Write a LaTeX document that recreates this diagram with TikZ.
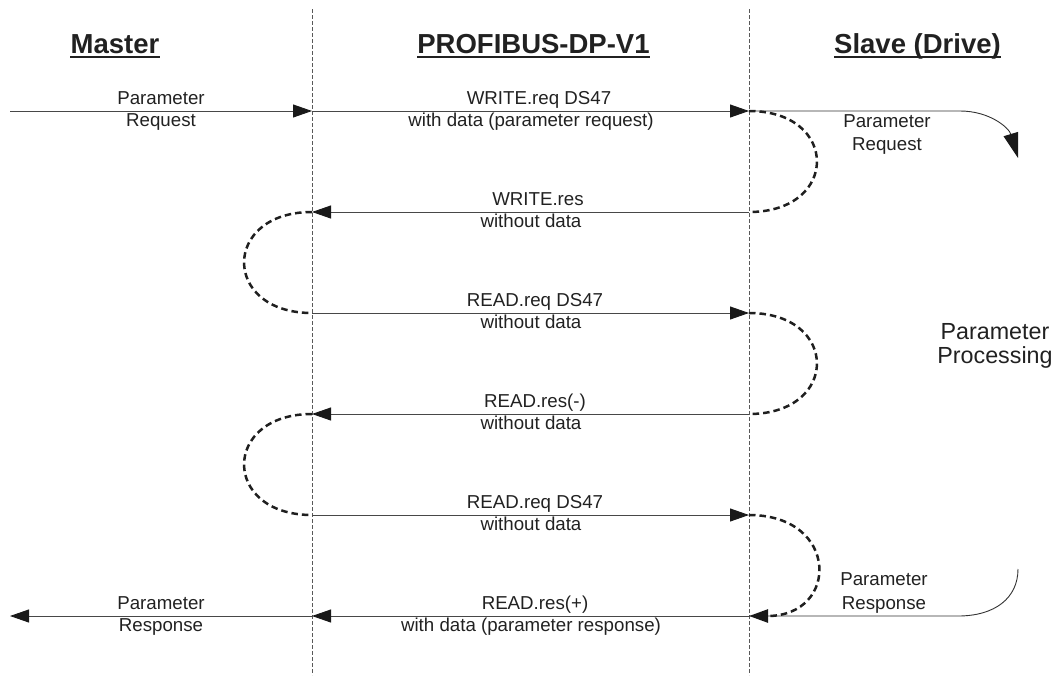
\documentclass[tikz,border=0pt]{standalone}
\usepackage{fontspec}
\setmainfont{Liberation Sans}
\usetikzlibrary{arrows.meta}
\begin{document}
\begin{tikzpicture}[x=1pt,y=-1pt,
  lbl/.style={font=\fontsize{18.7}{20}\selectfont, inner sep=0pt, anchor=base, text=black!87},
  big/.style={font=\fontsize{23.3}{26}\selectfont, inner sep=0pt, anchor=base, text=black!87},
  head/.style={font=\fontsize{27.5}{30}\selectfont\bfseries, inner sep=0pt, anchor=base, text=black!87},
  uline/.style={draw=black!87, line width=2pt},
  tip/.tip={Triangle[length=19pt,width=13pt,color=black!90]},
  bigtip/.tip={Triangle[length=25pt,width=15pt,color=black!90]},
  msg/.style={draw=black!72, line width=0.9pt, -tip},
  plain/.style={draw=black!80, line width=0.9pt},
  dloop/.style={draw=black!88, line width=2.5pt, dash pattern=on 6.5pt off 4pt, looseness=2.3},
  life/.style={draw=black!65, line width=0.8pt, dash pattern=on 4pt off 2pt}]
\useasboundingbox (0,0) rectangle (1061,683);

% headings
\node[head] (hm) at (115,53) {Master};
\node[head] (hp) at (533.5,53) {PROFIBUS-DP-V1};
\node[head] (hs) at (917.5,53) {Slave (Drive)};
\foreach \h in {hm,hp,hs}{
  \draw[uline] ([yshift=-3.5pt]\h.base west) -- ([yshift=-3.5pt]\h.base east);
}

% lifelines
\coordinate (mt) at (312,9);
\coordinate (mb) at (312,675);
\coordinate (st) at (749,9);
\coordinate (sb) at (749,675);
\draw[life] (mt) -- (mb);
\draw[life] (st) -- (sb);

% points on lifelines
\foreach \i/\y in {1/111,2/212,3/313,4/414,5/515,6/616}{
  \coordinate (m\i) at (312,\y);
  \coordinate (s\i) at (749,\y);
}
\coordinate (in1) at (10,111);
\coordinate (out6) at (10,616);
\coordinate (rq0) at (960,111);
\coordinate (rq1) at (1018,158);
\coordinate (rs0) at (1018,569);
\coordinate (rs1) at (958,616);

% messages
\draw[msg] (in1) -- (m1);
\draw[msg] (m1) -- (s1);
\draw[plain,-bigtip] (s1) -- (rq0) .. controls (990,111) and (1009,128) .. (rq1);
\draw[msg] (s2) -- (m2);
\draw[msg] (m3) -- (s3);
\draw[msg] (s4) -- (m4);
\draw[msg] (m5) -- (s5);
\draw[plain] (rs0) .. controls (1018,598) and (995,616) .. (rs1) -- (s6);
\draw[msg] (s6) -- (m6);
\draw[msg] (m6) -- (out6);

% dashed loops
\draw[dloop] (s1) to[out=0,in=0] (s2);
\draw[dloop] (m2) to[out=180,in=180] (m3);
\draw[dloop] (s3) to[out=0,in=0] (s4);
\draw[dloop] (m4) to[out=180,in=180] (m5);
\draw[dloop,-tip] (s5) to[out=0,in=0] (s6);

% labels
\node[lbl] (l1a) at (161,104) {Parameter};
\node[lbl] (l1b) at (161,126) {Request};
\node[lbl] (l2a) at (539,104) {WRITE.req DS47};
\node[lbl] (l2b) at (531,126) {with data (parameter request)};
\node[lbl] (l3a) at (887,127) {Parameter};
\node[lbl] (l3b) at (887,150) {Request};
\node[lbl] (l4a) at (538,205) {WRITE.res};
\node[lbl] (l4b) at (531,227) {without data};
\node[lbl] (l5a) at (535,306) {READ.req DS47};
\node[lbl] (l5b) at (531,328) {without data};
\node[lbl] (l6a) at (535,407) {READ.res(-)};
\node[lbl] (l6b) at (531,429) {without data};
\node[lbl] (l7a) at (535,508) {READ.req DS47};
\node[lbl] (l7b) at (531,530) {without data};
\node[lbl] (l8a) at (884,585) {Parameter};
\node[lbl] (l8b) at (884,609) {Response};
\node[lbl] (l9a) at (535,609) {READ.res(+)};
\node[lbl] (l9b) at (531,631) {with data (parameter response)};
\node[lbl] (l10a) at (161,609) {Parameter};
\node[lbl] (l10b) at (161,631) {Response};
\node[big] (pp1) at (995,339) {Parameter};
\node[big] (pp2) at (995,363) {Processing};
\end{tikzpicture}
\end{document}
